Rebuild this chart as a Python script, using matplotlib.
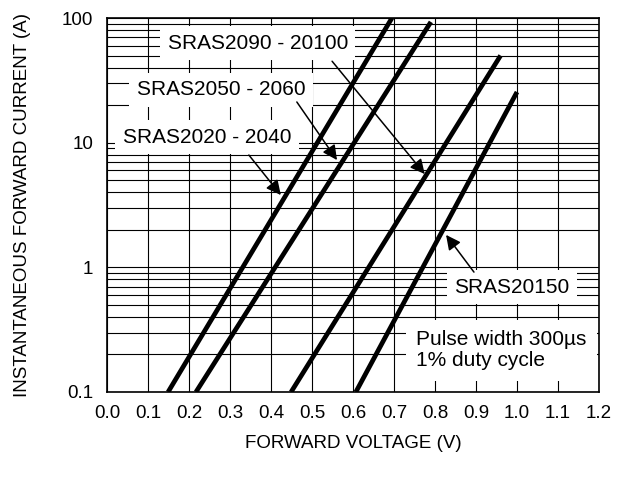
import matplotlib
matplotlib.use("Agg")
import matplotlib.pyplot as plt
from matplotlib.ticker import FixedLocator, LogLocator, NullFormatter

plt.rcParams["font.family"] = ["Liberation Sans", "DejaVu Sans"]

# curve end points: (forward voltage V, current A)
series_names = ["SRAS2020 - 2040", "SRAS2050 - 2060", "SRAS2090 - 20100", "SRAS20150"]
voltage_start = [0.149, 0.217, 0.449, 0.607]
voltage_end = [0.695, 0.790, 0.960, 1.000]
current_start = [0.1, 0.1, 0.1, 0.1]
current_end = [100.0, 93.0, 50.0, 25.5]

# label text position, arrow tail and arrow tip (V, A)
label_text_pos = [(0.244, 11.1), (0.278, 26.5), (0.368, 63.0), (0.988, 0.695)]
arrow_tail = [(0.346, 7.96), (0.463, 21.2), (0.549, 45.0), (0.895, 0.916)]
arrow_tip = [(0.424, 3.8), (0.561, 7.25), (0.775, 5.6), (0.827, 1.82)]

x_ticks = [0.0, 0.1, 0.2, 0.3, 0.4, 0.5, 0.6, 0.7, 0.8, 0.9, 1.0, 1.1, 1.2]
y_ticks = [0.1, 1, 10, 100]
y_tick_labels = ["0.1", "1", "10", "100"]
note_text = "Pulse width 300\u00b5s\n1% duty cycle"

fig = plt.figure(figsize=(6.21, 4.78), dpi=100)
ax = fig.add_axes([107 / 621, 1 - 392 / 478, 492 / 621, 374 / 478])

ax.set_yscale("log")
ax.set_xlim(0.0, 1.2)
ax.set_ylim(0.1, 100)

ax.xaxis.set_major_locator(FixedLocator(x_ticks))
ax.set_xticklabels([f"{v:.1f}" for v in x_ticks])
ax.yaxis.set_major_locator(FixedLocator(y_ticks))
ax.set_yticklabels(y_tick_labels)
ax.yaxis.set_minor_locator(LogLocator(base=10, subs=range(2, 10)))
ax.yaxis.set_minor_formatter(NullFormatter())

ax.tick_params(axis="both", which="both", length=0, labelsize=13.5)
ax.tick_params(axis="x", pad=9)
ax.tick_params(axis="y", pad=10)
ax.grid(True, which="major", axis="x", color="black", lw=0.8)
ax.grid(True, which="both", axis="y", color="black", lw=0.8)
ax.set_axisbelow(True)
for spine in ax.spines.values():
    spine.set_linewidth(1.2)

for v0, v1, i0, i1 in zip(voltage_start, voltage_end, current_start, current_end):
    ax.plot([v0, v1], [i0, i1], color="black", lw=3.4, solid_capstyle="butt", zorder=4)

box = dict(boxstyle="square,pad=0.35", facecolor="white", edgecolor="none")
for name, pos, tail, tip in zip(series_names, label_text_pos, arrow_tail, arrow_tip):
    ax.text(pos[0], pos[1], name, fontsize=15, ha="center", va="center", bbox=box, zorder=3)
    ax.annotate("", xy=tip, xytext=tail,
                arrowprops=dict(arrowstyle="-|>", color="black", lw=1.1,
                                mutation_scale=22, shrinkA=0, shrinkB=0),
                zorder=5)

ax.text(0.754, 0.217, note_text, fontsize=15, ha="left", va="center", linespacing=1.15,
        bbox=dict(boxstyle="square,pad=0.5", facecolor="white", edgecolor="none"), zorder=3)

ax.set_xlabel("FORWARD VOLTAGE (V)", fontsize=13.5, labelpad=10)
ax.set_ylabel("INSTANTANEOUS FORWARD CURRENT (A)", fontsize=13.5, labelpad=22)

fig.savefig("out.png", dpi=100)
